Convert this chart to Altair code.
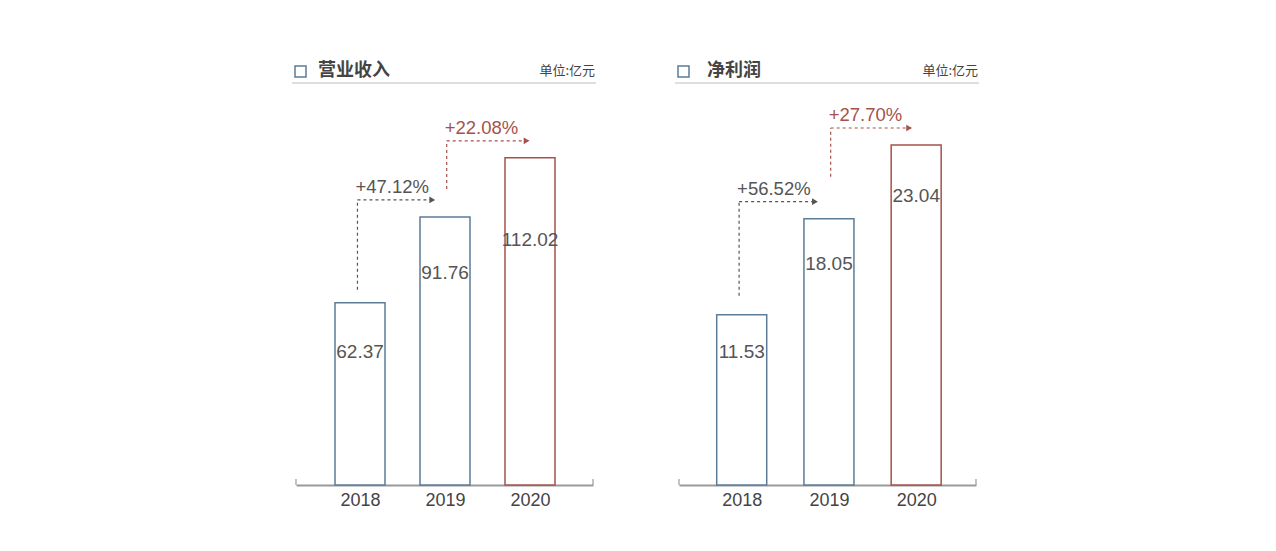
import altair as alt
import pandas as pd

years = ["2018", "2019", "2020"]
revenue = [62.37, 91.76, 112.02]
profit = [11.53, 18.05, 23.04]
revenue_growth = ["+47.12%", "+22.08%"]
profit_growth = ["+56.52%", "+27.70%"]

titles = ["营业收入", "净利润"]
unit_text = "单位:亿元"

BLUE = "#5b7c99"
RED = "#a5524c"
GRAY_TXT = "#555555"
W, H = 297, 425
FONT = "Liberation Sans"
CJK = "Noto Sans CJK SC"


def panel(values, growth, title, ymax, xdom, label_fracs, bottom_gaps, tip_shift, title_dx):
    px = H / ymax  # pixels per unit
    bars = pd.DataFrame({
        "i": list(range(len(years))),
        "year": years,
        "value": values,
        "label_y": [v * f for v, f in zip(values, label_fracs)],
        "kind": ["base", "base", "last"],
    })
    xs = alt.X("i:Q", scale=alt.Scale(domain=xdom, nice=False, zero=False, padding=0),
               axis=alt.Axis(values=[0, 1, 2], title=None, ticks=False, grid=False,
                             labelExpr="['" + "','".join(years) + "'][datum.value]",
                             labelFont=FONT, labelFontSize=18, labelColor="#444444",
                             labelPadding=6, domainColor="#9a9a9a", domainWidth=2))
    ys = alt.Y("value:Q", scale=alt.Scale(domain=[0, ymax], nice=False), axis=None)
    color_scale = alt.Scale(domain=["base", "last"], range=[BLUE, RED])

    bar = alt.Chart(bars).mark_bar(size=50, fill="white", strokeWidth=1.5).encode(
        x=xs, y=ys, stroke=alt.Stroke("kind:N", scale=color_scale, legend=None))
    lab = alt.Chart(bars).mark_text(font=FONT, fontSize=19, color=GRAY_TXT).encode(
        x=alt.X("i:Q"), y=alt.Y("label_y:Q"), text=alt.Text("value:Q", format=".2f"))

    # growth connectors
    rows = []
    start_shift = [-0.03, 0.02]
    for k, g in enumerate(growth):
        x0 = k + start_shift[k]
        y0 = values[k] + bottom_gaps[k] / px
        y1 = values[k + 1] + 17 / px
        x1 = k + 1 + tip_shift[k]
        rows.append({"x0": x0, "y0": y0, "x1": x1, "y1": y1, "txt": g,
                     "kind": "base" if k == 0 else "last"})
    conn = pd.DataFrame(rows)
    cscale = alt.Scale(domain=["base", "last"], range=[GRAY_TXT, RED])
    vline = alt.Chart(conn).mark_rule(strokeDash=[3, 3], strokeWidth=1.2).encode(
        x=alt.X("x0:Q"), y=alt.Y("y0:Q"), y2="y1:Q",
        color=alt.Color("kind:N", scale=cscale, legend=None))
    hline = alt.Chart(conn).mark_rule(strokeDash=[3, 3], strokeWidth=1.2).encode(
        x=alt.X("x0:Q"), x2="x1:Q", y=alt.Y("y1:Q"),
        color=alt.Color("kind:N", scale=cscale, legend=None))
    head = alt.Chart(conn).mark_point(shape="triangle-right", filled=True, size=45, opacity=1).encode(
        x=alt.X("x1:Q"), y=alt.Y("y1:Q"),
        color=alt.Color("kind:N", scale=cscale, legend=None))
    gtxt = alt.Chart(conn).mark_text(font=FONT, fontSize=18.5, align="left", baseline="bottom", dy=-3, dx=-2).encode(
        x=alt.X("x0:Q"), y=alt.Y("y1:Q"), text="txt:N",
        color=alt.Color("kind:N", scale=cscale, legend=None))

    # header decorations
    hdr = pd.DataFrame({"t": [title]})
    sq = alt.Chart(hdr).mark_rect(fill="white", stroke=BLUE, strokeWidth=1.5).encode(
        x=alt.value(-1), x2=alt.value(10), y=alt.value(6), y2=alt.value(17))
    ttl = alt.Chart(hdr).mark_text(font=CJK, fontSize=18, fontWeight="bold", color="#444444",
                                   align="left", baseline="middle").encode(
        x=alt.value(title_dx), y=alt.value(11), text="t:N")
    unit = alt.Chart(pd.DataFrame({"t": [unit_text]})).mark_text(
        font=CJK, fontSize=13, color="#444444", align="right", baseline="middle").encode(
        x=alt.value(W + 2), y=alt.value(11), text="t:N")
    hl = alt.Chart(hdr).mark_rule(color="#dedede", strokeWidth=2).encode(
        x=alt.value(-4), x2=alt.value(W + 3), y=alt.value(23))
    endticks = alt.Chart(pd.DataFrame({"p": [0, W]})).mark_rule(color="#9a9a9a", strokeWidth=1.2).encode(
        x=alt.X("p:Q", scale=None), y=alt.value(H - 6), y2=alt.value(H))

    return alt.layer(hl, sq, ttl, unit, bar, lab, vline, hline, head, gtxt, endticks).properties(
        width=W, height=H)


left = panel(revenue, revenue_growth, titles[0], 145.5, [-0.753, 2.741],
             [0.73, 0.79, 0.75], [13, 28], [-0.15, -0.04], 22)
right = panel(profit, profit_growth, titles[1], 28.8, [-0.719, 2.686],
              [0.78, 0.83, 0.85], [19, 42], [-0.16, -0.08], 28)

chart = alt.hconcat(left, right, spacing=77).resolve_scale(color="independent", stroke="independent").properties(
    padding={"left": 291, "top": 60, "right": 5, "bottom": 5}
).configure_view(stroke=None)

chart.save("out.html", embed_options={"renderer": "svg", "actions": False})
